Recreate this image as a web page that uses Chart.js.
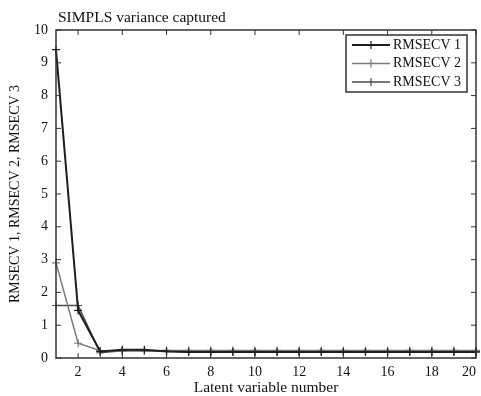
<!DOCTYPE html>
<html>
<head>
<meta charset="utf-8">
<script src="https://cdn.jsdelivr.net/npm/chart.js@4/dist/chart.umd.min.js"></script>
<style>
html,body{margin:0;padding:0;background:#fff;}
canvas{display:block;}
</style>
</head>
<body>
<canvas id="c" width="481" height="396"></canvas>
<script>
const latentVariables = [1,2,3,4,5,6,7,8,9,10,11,12,13,14,15,16,17,18,19,20];
const rmsecv1 = [9.4,1.45,0.2,0.25,0.25,0.2,0.18,0.18,0.18,0.18,0.18,0.18,0.18,0.18,0.18,0.18,0.18,0.18,0.18,0.18];
const rmsecv2 = [2.9,0.45,0.22,0.22,0.22,0.23,0.23,0.23,0.23,0.23,0.23,0.23,0.23,0.23,0.23,0.23,0.23,0.23,0.23,0.23];
const rmsecv3 = [1.6,1.6,0.16,0.22,0.22,0.21,0.2,0.2,0.2,0.2,0.2,0.2,0.2,0.2,0.2,0.2,0.2,0.2,0.2,0.2];
const seriesNames = ['RMSECV 1','RMSECV 2','RMSECV 3'];
const xTickValues = [2,4,6,8,10,12,14,16,18,20];
const yTickValues = [0,1,2,3,4,5,6,7,8,9,10];
const titleText = 'SIMPLS variance captured';
const xTitle = 'Latent variable number';
const yTitle = 'RMSECV 1, RMSECV 2, RMSECV 3';

const FONT = "'Liberation Serif', 'DejaVu Serif', serif";
const colors = ['#1e1e1e','#7a7a7a','#4a4a4a'];
const widths = [2,1.5,1.5];

function pts(arr){ return latentVariables.map((x,i)=>({x:x,y:arr[i]})); }
const datasets = [rmsecv1,rmsecv2,rmsecv3].map((arr,i)=>({
  label: seriesNames[i],
  data: pts(arr),
  borderColor: colors[i],
  backgroundColor: colors[i],
  borderWidth: widths[i],
  pointStyle: 'cross',
  pointRadius: 4,
  pointBorderWidth: 1.2,
  pointBorderColor: colors[i],
  tension: 0,
  clip: false
}));

const framePlugin = {
  id: 'frame',
  afterDraw(chart){
    const ctx = chart.ctx, a = chart.chartArea;
    const xs = chart.scales.x, ys = chart.scales.y;
    ctx.save();
    ctx.strokeStyle = '#333';
    ctx.lineWidth = 1.5;
    ctx.strokeRect(a.left, a.top, a.right-a.left, a.bottom-a.top);
    ctx.lineWidth = 1;
    const L = 5;
    ctx.beginPath();
    xTickValues.forEach(v=>{
      const p = xs.getPixelForValue(v);
      ctx.moveTo(p, a.bottom); ctx.lineTo(p, a.bottom-L);
      ctx.moveTo(p, a.top); ctx.lineTo(p, a.top+L);
    });
    yTickValues.forEach(v=>{
      const p = ys.getPixelForValue(v);
      ctx.moveTo(a.left, p); ctx.lineTo(a.left+L, p);
      ctx.moveTo(a.right, p); ctx.lineTo(a.right-L, p);
    });
    ctx.stroke();

    // title
    ctx.fillStyle = '#111';
    ctx.font = '15.5px ' + FONT;
    ctx.textAlign = 'left';
    ctx.textBaseline = 'middle';
    ctx.fillText(titleText, a.left + 2, a.top - 12);

    // legend box
    ctx.font = '14px ' + FONT;
    const bx = a.right - 130, by = a.top + 5, bw = 121, bh = 57;
    ctx.fillStyle = '#fff';
    ctx.fillRect(bx, by, bw, bh);
    ctx.strokeStyle = '#333';
    ctx.lineWidth = 1.5;
    ctx.strokeRect(bx, by, bw, bh);
    chart.data.datasets.forEach((ds,i)=>{
      const y = by + 10 + i*18.5;
      ctx.strokeStyle = ds.borderColor;
      ctx.lineWidth = ds.borderWidth;
      ctx.beginPath();
      ctx.moveTo(bx+6, y); ctx.lineTo(bx+44, y);
      ctx.stroke();
      ctx.lineWidth = 1.2;
      ctx.beginPath();
      ctx.moveTo(bx+25, y-4); ctx.lineTo(bx+25, y+4);
      ctx.stroke();
      ctx.fillStyle = '#111';
      ctx.textAlign = 'left';
      ctx.textBaseline = 'middle';
      ctx.fillText(ds.label, bx+47, y);
    });
    ctx.restore();
  }
};

new Chart(document.getElementById('c'), {
  type: 'line',
  data: { datasets },
  options: {
    responsive: false,
    animation: false,
    layout: { padding: { top: 30, right: 5, left: 0, bottom: 0 }, autoPadding: false },
    plugins: { legend: { display: false }, tooltip: { enabled: false }, title: { display: false } },
    scales: {
      x: {
        type: 'linear', min: 1, max: 20,
        grid: { display: false, drawTicks: false },
        border: { display: false },
        afterBuildTicks(s){ s.ticks = xTickValues.map(v=>({value:v})); },
        afterFit(s){ s.height = 38; s.paddingLeft = 0; s.paddingRight = 0; },
        ticks: {
          color: '#111', font: { family: FONT, size: 14 }, padding: 6, maxRotation: 0, autoSkip: false,
          callback: (v)=> v === 20 ? '20\u2002\u2002' : String(v)
        },
        title: { display: true, text: xTitle, color: '#111', font: { family: FONT, size: 15.5 }, padding: { top: 0, bottom: -1 } }
      },
      y: {
        type: 'linear', min: 0, max: 10,
        grid: { display: false, drawTicks: false },
        border: { display: false },
        afterBuildTicks(s){ s.ticks = yTickValues.map(v=>({value:v})); },
        afterFit(s){ s.width = 56; },
        ticks: { color: '#111', font: { family: FONT, size: 14 }, padding: 8 },
        title: { display: true, text: yTitle, color: '#111', font: { family: FONT, size: 14 }, padding: { top: 7, bottom: 0 } }
      }
    }
  },
  plugins: [framePlugin]
});
</script>
</body>
</html>
